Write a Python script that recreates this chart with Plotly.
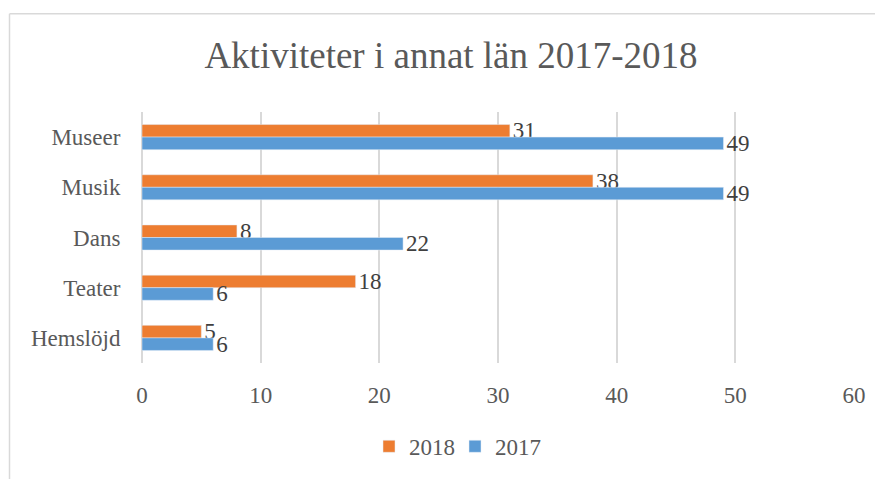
import plotly.graph_objects as go

categories = ["Museer", "Musik", "Dans", "Teater", "Hemslöjd"]
values_2018 = [31, 38, 8, 18, 5]
values_2017 = [49, 49, 22, 6, 6]
x_ticks = [0, 10, 20, 30, 40, 50, 60]

FONT = "Liberation Serif, Times New Roman, serif"
GREY = "#595959"

fig = go.Figure()
fig.add_trace(go.Bar(
    name="2018", y=categories, x=values_2018, orientation="h",
    marker=dict(color="#ED7D31"),
    text=[str(v) for v in values_2018], textposition="outside",
    textfont=dict(family=FONT, size=23, color="#404040"),
    constraintext="none", cliponaxis=False,
))
fig.add_trace(go.Bar(
    name="2017", y=categories, x=values_2017, orientation="h",
    marker=dict(color="#5B9BD5"),
    text=[str(v) for v in values_2017], textposition="outside",
    textfont=dict(family=FONT, size=23, color="#404040"),
    constraintext="none", cliponaxis=False,
))

# page has an 8px body margin; work in reference-pixel coordinates and shift
O = 8
W, H = 883 - O, 479 - O
L = 142 - O
T = 112 - O
R = W - (854 - O)
B = H - (363.5 - O)
pw, ph = W - L - R, H - T - B

def px(x):
    return (x - O - L) / pw

def py(y):
    return (H - B - (y - O)) / ph

line = dict(color="#D9D9D9", width=1.5)
shapes = [
    dict(type="line", xref="paper", yref="paper", x0=px(9.5), x1=px(9.5), y0=py(13.5), y1=py(495), line=line),
    dict(type="line", xref="paper", yref="paper", x0=px(9.5), x1=px(895), y0=py(13.5), y1=py(13.5), line=line),
]

fig.update_layout(
    width=W, height=H, autosize=False,
    margin=dict(l=L, r=R, t=T, b=B, pad=0, autoexpand=False),
    paper_bgcolor="white", plot_bgcolor="white",
    barmode="group", bargap=0.5, bargroupgap=0,
    font=dict(family=FONT, size=23, color=GREY),
    title=dict(text="Aktiviteter i annat län 2017-2018", x=px(451), xref="paper", xanchor="center",
               y=1 - (55 - O) / H, yref="container", yanchor="middle",
               font=dict(family=FONT, size=37, color=GREY)),
    xaxis=dict(range=[0, 60], tickvals=x_ticks, showgrid=True, gridcolor="#D9D9D9", gridwidth=1.5,
               zeroline=True, zerolinecolor="#D9D9D9", zerolinewidth=1.5, showline=False,
               ticks="outside", ticklen=11, tickcolor="rgba(0,0,0,0)", automargin=False,
               tickfont=dict(family=FONT, size=23, color=GREY), fixedrange=True),
    yaxis=dict(categoryorder="array", categoryarray=categories, autorange="reversed",
               showgrid=False, showline=False, ticks="outside", ticklen=16, tickcolor="rgba(0,0,0,0)",
               automargin=False, tickfont=dict(family=FONT, size=23, color=GREY)),
    legend=dict(orientation="h", x=px(455), xanchor="center",
                y=py(447), yanchor="middle", traceorder="normal",
                entrywidth=41, entrywidthmode="pixels", itemwidth=30,
                font=dict(family=FONT, size=23, color=GREY)),
    shapes=shapes,
    showlegend=True,
)

fig.write_html("out.html")
